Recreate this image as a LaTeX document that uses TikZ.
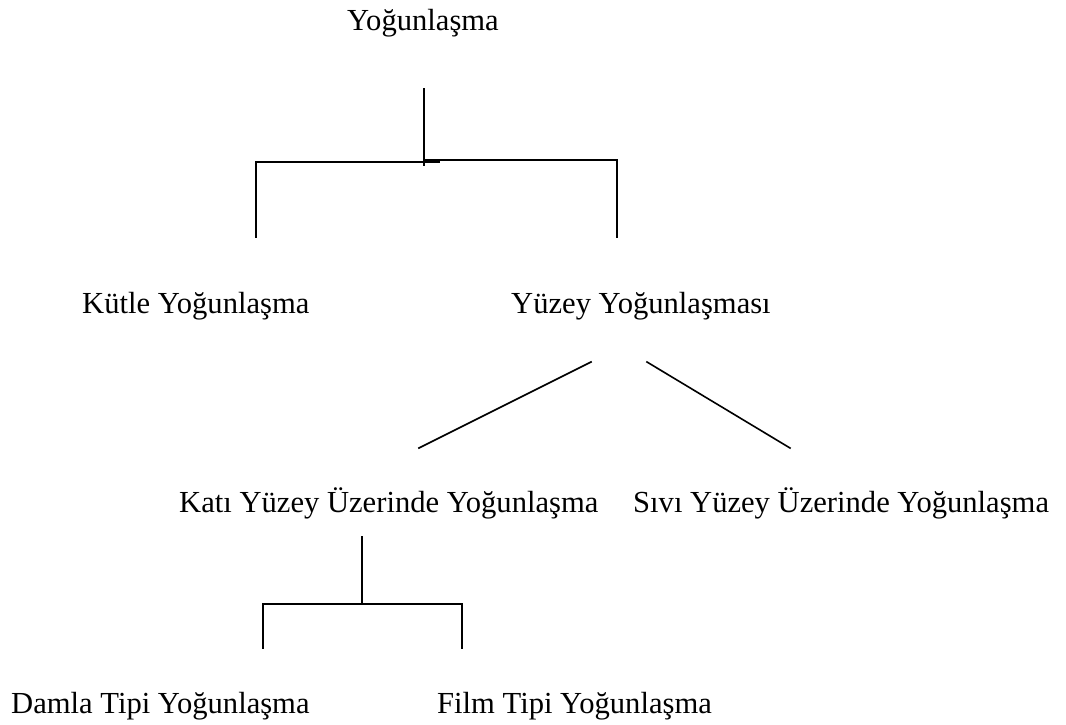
\documentclass[tikz,border=0pt]{standalone}
\usepackage{fontspec}
\setmainfont{Liberation Serif}
\begin{document}
\begin{tikzpicture}[x=1pt,y=-1pt,
  lbl/.style={anchor=base west,inner sep=0pt,font=\fontsize{30.6}{36}\selectfont},
  conn/.style={line width=1.6pt,line cap=rect}]
\useasboundingbox (0,0) rectangle (1066,724);
% labels
\node[lbl] (top) at (347,30) {Yoğunlaşma};
\node[lbl] (kutle) at (82,313) {Kütle Yoğunlaşma};
\node[lbl] (yuzey) at (511,313) {Yüzey Yoğunlaşması};
\node[lbl] (kati) at (179,512) {Katı Yüzey Üzerinde Yoğunlaşma};
\node[lbl] (sivi) at (633,512) {Sıvı Yüzey Üzerinde Yoğunlaşma};
\node[lbl] (damla) at (11,713) {Damla Tipi Yoğunlaşma};
\node[lbl] (film) at (437,713) {Film Tipi Yoğunlaşma};
% connector points
\coordinate (t1) at (424,89);
\coordinate (t2) at (424,165);
\coordinate (l1) at (256,237);
\coordinate (l2) at (256,162);
\coordinate (l3) at (439,162);
\coordinate (r1) at (424,160);
\coordinate (r2) at (617,160);
\coordinate (r3) at (617,237);
\coordinate (d1) at (419,448);
\coordinate (d2) at (591,362);
\coordinate (e1) at (647,362);
\coordinate (e2) at (790,448);
\coordinate (b1) at (362,537);
\coordinate (b2) at (362,604);
\coordinate (b3) at (263,648);
\coordinate (b4) at (263,604);
\coordinate (b5) at (462,604);
\coordinate (b6) at (462,648);
% connectors
\draw[conn] (t1) -- (t2);
\draw[conn] (l1) -- (l2) -- (l3);
\draw[conn] (r1) -- (r2) -- (r3);
\draw[conn] (d1) -- (d2);
\draw[conn] (e1) -- (e2);
\draw[conn] (b1) -- (b2);
\draw[conn] (b3) -- (b4) -- (b5) -- (b6);
\end{tikzpicture}
\end{document}
